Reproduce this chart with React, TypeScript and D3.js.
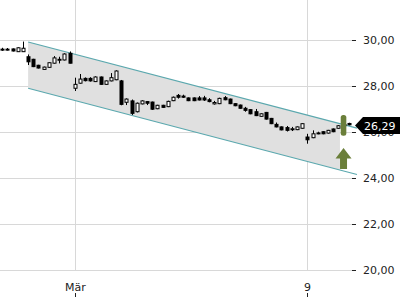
import React from "react";
import * as d3 from "d3";

// OHLC candles (intraday), index-based positions
const opens = [29.57,29.57,29.59,29.47,29.47,29.25,29.14,28.88,28.70,28.79,28.97,29.10,29.11,29.40,27.88,28.10,28.31,28.31,28.17,28.37,28.05,28.20,28.25,28.20,27.27,27.33,26.86,27.20,27.30,27.28,26.99,27.14,27.08,27.34,27.57,27.54,27.46,27.46,27.46,27.46,27.38,27.20,27.21,27.47,27.41,27.21,27.15,27.01,26.95,26.86,26.66,26.83,26.57,26.31,26.20,26.17,26.10,26.08,26.14,25.76,25.73,25.92,25.99,25.93,26.11,26.14,26.25,26.35];
const highs = [29.64,29.63,29.61,29.66,29.91,29.35,29.16,28.90,28.82,29.00,29.28,29.25,29.40,29.48,28.34,28.50,28.35,28.36,28.40,28.39,28.22,28.54,28.66,28.24,27.44,27.39,27.26,27.36,27.32,27.30,27.16,27.16,27.34,27.52,27.63,27.60,27.48,27.48,27.54,27.55,27.45,27.33,27.47,27.54,27.43,27.23,27.17,27.07,26.97,26.98,26.79,26.85,26.59,26.39,26.22,26.24,26.20,26.22,26.36,25.90,26.05,25.99,26.01,26.07,26.13,26.28,26.36,26.38];
const lows = [29.50,29.52,29.48,29.46,29.46,28.89,28.80,28.74,28.68,28.77,28.95,28.96,29.09,28.96,27.76,28.08,28.18,28.17,28.15,28.03,28.03,28.18,28.23,27.14,27.15,26.72,26.83,27.18,27.15,26.94,26.97,27.03,27.06,27.32,27.43,27.46,27.32,27.32,27.35,27.33,27.27,27.17,27.19,27.36,27.19,27.10,26.99,26.86,26.75,26.67,26.64,26.52,26.32,26.18,26.05,26.00,26.02,26.06,26.12,25.47,25.71,25.88,25.88,25.91,25.97,26.12,26.20,26.27];
const closes = [29.58,29.58,29.50,29.64,29.62,29.03,28.82,28.76,28.80,28.99,29.20,29.14,29.37,28.97,28.05,28.28,28.21,28.20,28.37,28.05,28.20,28.34,28.63,27.18,27.41,26.79,27.23,27.33,27.23,26.97,27.14,27.05,27.31,27.49,27.49,27.49,27.34,27.34,27.37,27.37,27.30,27.26,27.44,27.38,27.21,27.12,27.01,26.92,26.77,26.69,26.77,26.54,26.34,26.20,26.07,26.05,26.12,26.20,26.34,25.64,25.90,25.94,25.90,26.05,25.99,26.25,26.30,26.29];

// x-axis tick labels (candle index -> label)
const xTickIndex = [14, 59];
const xTickLabels = ["Mär", "9"];

// y-axis ticks
const yTicks = [20, 22, 24, 26, 28, 30];

// trend channel [index, upper, lower]
const channelIdx = [5, 68.6];
const channelUpper = [29.89, 26.15];
const channelLower = [27.88, 24.13];
const channelFillEnd = 65.3;

// signal marker bar [low, high] at index, and arrow [bottom, top]
const markerIdx = 66;
const markerRange = [25.82, 26.72];
const arrowRange = [24.37, 25.28];

const lastPrice = closes[closes.length - 1];

const W = 400, H = 300;
const plotRight = 352;
const plotBottom = 270;
const FONT = "DejaVu Sans, Verdana, sans-serif";

export default function App() {
  const x = d3.scaleLinear().domain([0, 67]).range([2.3, 348.7]);
  const y = d3.scaleLinear().domain([20, 30]).range([269.5, 39.5]);

  const fmt = (v: number) => v.toFixed(2).replace(".", ",");

  const slopeU = (channelUpper[1] - channelUpper[0]) / (channelIdx[1] - channelIdx[0]);
  const slopeL = (channelLower[1] - channelLower[0]) / (channelIdx[1] - channelIdx[0]);
  const uAt = (i: number) => channelUpper[0] + slopeU * (i - channelIdx[0]);
  const lAt = (i: number) => channelLower[0] + slopeL * (i - channelIdx[0]);

  const fillPts: [number, number][] = [
    [x(channelIdx[0]), y(uAt(channelIdx[0]))],
    [x(channelFillEnd), y(uAt(channelFillEnd))],
    [x(channelFillEnd), y(lAt(channelFillEnd))],
    [x(channelIdx[0]), y(lAt(channelIdx[0]))],
  ];

  const ly = Math.round(y(lastPrice)) + 0.5;
  const mx = x(markerIdx);
  const aTop = y(arrowRange[1]);
  const aBot = y(arrowRange[0]);
  const headBase = aTop + 10.5;

  return (
    <svg width={W} height={H} style={{ position: "absolute", left: 0, top: 0, background: "#fff" }}>
      {/* horizontal grid */}
      {yTicks.map((t) => (
        <line key={"g" + t} x1={0} x2={plotRight} y1={Math.round(y(t)) + 0.5} y2={Math.round(y(t)) + 0.5} stroke="#d8d8d8" strokeWidth={1} />
      ))}
      {/* vertical grid */}
      {xTickIndex.map((i) => (
        <line key={"v" + i} x1={Math.round(x(i)) + 0.5} x2={Math.round(x(i)) + 0.5} y1={0} y2={plotBottom} stroke="#d8d8d8" strokeWidth={1} />
      ))}
      {/* channel */}
      <polygon points={fillPts.map((p) => p.join(",")).join(" ")} fill="#e0e0e0" />
      <line x1={x(channelIdx[0])} y1={y(channelUpper[0])} x2={x(channelIdx[1])} y2={y(channelUpper[1])} stroke="#5ba8ae" strokeWidth={1.2} />
      <line x1={x(channelIdx[0])} y1={y(channelLower[0])} x2={x(channelIdx[1])} y2={y(channelLower[1])} stroke="#5ba8ae" strokeWidth={1.2} />
      {/* candles */}
      {opens.map((o, i) => {
        const c = closes[i];
        const cx = Math.round(x(i)) + 0.5;
        const up = c >= o;
        const top = y(Math.max(o, c));
        const bot = y(Math.min(o, c));
        const h = Math.max(1, bot - top);
        return (
          <g key={"c" + i}>
            <line x1={cx} x2={cx} y1={y(highs[i])} y2={y(lows[i])} stroke="#000" strokeWidth={1} />
            <rect x={cx - 1.5} y={top} width={3} height={h} fill={up ? "#fff" : "#000"} stroke="#000" strokeWidth={1} />
          </g>
        );
      })}
      {/* marker bar */}
      <rect x={mx - 2.8} y={y(markerRange[1])} width={5.6} height={y(markerRange[0]) - y(markerRange[1])} rx={2.5} fill="#6b7f3a" />
      {/* arrow */}
      <path
        d={`M${mx},${aTop} L${mx + 8},${headBase} L${mx + 3.5},${headBase} L${mx + 3.5},${aBot} L${mx - 3.5},${aBot} L${mx - 3.5},${headBase} L${mx - 8},${headBase} Z`}
        fill="#6b7f3a"
      />
      {/* y axis */}
      {yTicks.map((t) => (
        <g key={"y" + t}>
          <line x1={plotRight} x2={plotRight + 4} y1={Math.round(y(t)) + 0.5} y2={Math.round(y(t)) + 0.5} stroke="#222" strokeWidth={1} />
          <text x={363} y={y(t) + 4} fontFamily={FONT} fontSize={11} fill="#222">{fmt(t)}</text>
        </g>
      ))}
      {/* x axis */}
      {xTickIndex.map((i, k) => (
        <g key={"x" + i}>
          <text x={Math.round(x(i)) + 0.5} y={291} textAnchor="middle" fontFamily={FONT} fontSize={11} fill="#222">{xTickLabels[k]}</text>
          <line x1={Math.round(x(i)) + 0.5} x2={Math.round(x(i)) + 0.5} y1={293} y2={297} stroke="#222" strokeWidth={1} />
        </g>
      ))}
      {/* last price label */}
      <path d={`M355,${ly} L363,${ly - 8.5} L402,${ly - 8.5} L402,${ly + 8.5} L363,${ly + 8.5} Z`} fill="#000" />
      <text x={364} y={ly + 4} fontFamily={FONT} fontSize={11} fill="#fff">{fmt(lastPrice)}</text>
    </svg>
  );
}
